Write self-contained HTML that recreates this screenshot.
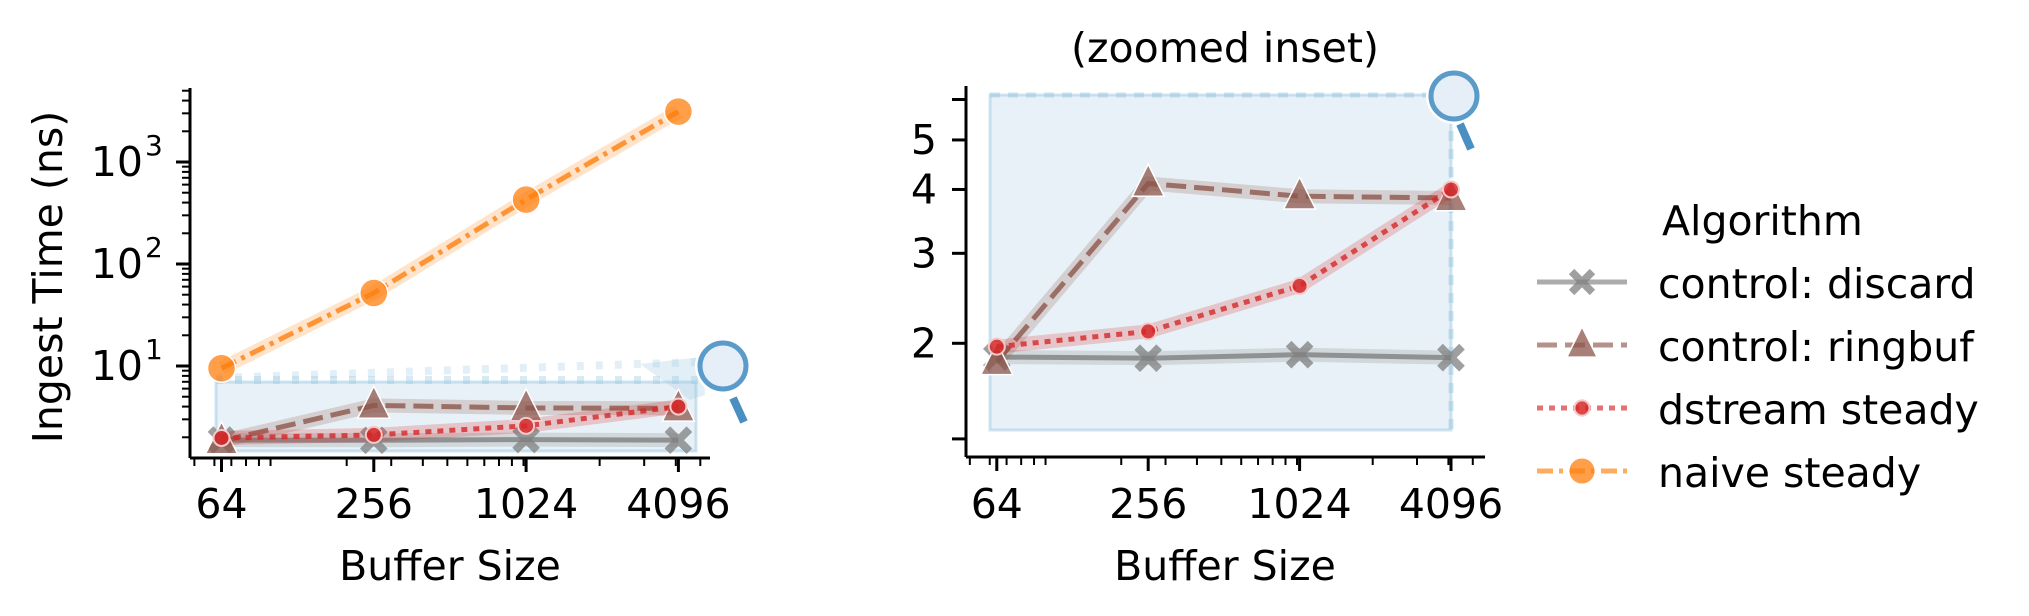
<!DOCTYPE html>
<html><head><meta charset="utf-8"><style>
html,body{margin:0;padding:0;background:#fff;}
svg{display:block;font-family:"DejaVu Sans","Liberation Sans",sans-serif;}
</style></head><body>
<svg id="chart" width="2029" height="616" viewBox="0 0 2029 616" xmlns="http://www.w3.org/2000/svg">
<g id="left"></g>
<g id="right"></g>
<g id="legend"></g>
</svg>
<script>
const sizes = [64, 256, 1024, 4096];
const discard = [1.88, 1.87, 1.90, 1.875];
const ringbuf = [1.84, 4.11, 3.88, 3.85];
const dstream = [1.97, 2.11, 2.59, 4.0];
const naive = [9.5, 52, 428, 3120];
const xTickLabels = ["64", "256", "1024", "4096"];
const leftYTicks = [10, 100, 1000];
const leftYTickLabels = ["1", "2", "3"];
const rightYTicks = [2, 3, 4, 5];
const rightYTickLabels = ["2", "3", "4", "5"];
const seriesNames = ["control: discard", "control: ringbuf", "dstream steady", "naive steady"];

const NS = "http://www.w3.org/2000/svg";
const FS = 41;
function mk(parent, tag, attrs, text) {
  const e = document.createElementNS(NS, tag);
  for (const k in attrs) e.setAttribute(k, attrs[k]);
  if (text !== undefined) e.textContent = text;
  parent.appendChild(e);
  return e;
}
const L = document.getElementById('left'), R = document.getElementById('right'), G = document.getElementById('legend');

function lx(v){ return 221.5 + Math.log(v/64)/Math.log(4)*152.3; }
function ly(v){ return 366 - (Math.log10(v)-1)*102; }
function rx(v){ return 996.8 + Math.log(v/64)/Math.log(4)*151.4; }
function ry(v){ return 343.3 - (Math.log10(v)-Math.log10(2))*511; }

const styles = [
  {c:'#7f7f7f', dash:'', m:'x', data:discard, name:'discard'},
  {c:'#8c564b', dash:'20 8', m:'tri', data:ringbuf, name:'ringbuf'},
  {c:'#d62728', dash:'6 6', m:'dot', data:dstream, name:'dstream'},
  {c:'#ff7f0e', dash:'16 6 4 6', m:'circ', data:naive, name:'naive'}
];

function marker(parent, type, x, y, c, scale) {
  let e;
  const s = scale || 1;
  if (type === 'x') {
    const d = 11*s;
    e = mk(parent, 'path', {d:`M${x-d},${y-d}L${x+d},${y+d}M${x-d},${y+d}L${x+d},${y-d}`, stroke:c, 'stroke-width':8*s, 'stroke-opacity':0.75, fill:'none'});
  } else if (type === 'tri') {
    const h = 16*s;
    e = mk(parent, 'path', {d:`M${x},${y-h*1.2}L${x+h},${y+h*0.8}L${x-h},${y+h*0.8}Z`, fill:c, 'fill-opacity':0.75, stroke:'#fff', 'stroke-width':1.5});
  } else if (type === 'dot') {
    e = mk(parent, 'circle', {cx:x, cy:y, r:8*s, fill:c, 'fill-opacity':0.85, stroke:'#f3c9c9', 'stroke-width':2});
  } else {
    e = mk(parent, 'circle', {cx:x, cy:y, r:14*s, fill:c, 'fill-opacity':0.75, stroke:'#fff', 'stroke-width':1.5});
  }
  return e;
}

function drawSeries(parent, st, xf, yf, idx) {
  const pts = sizes.map((s,i)=>xf(s)+','+yf(st.data[i])).join(' ');
  const band = mk(parent, 'polyline', {points:pts, fill:'none', stroke:st.c, 'stroke-width':14, 'stroke-opacity':0.22, 'stroke-linejoin':'round'});
  
  
  const ln = mk(parent, 'polyline', {points:pts, fill:'none', stroke:st.c, 'stroke-width':5, 'stroke-opacity':0.8, 'stroke-dasharray':st.dash});
  
  
  sizes.forEach((s,i)=>{
    const m = marker(parent, st.m, xf(s), yf(st.data[i]), st.c);
    
    
  });
}

function xAxis(parent, xf, x0, x1, y) {
  const a = mk(parent, 'line', {x1:x0, y1:y, x2:x1, y2:y, stroke:'#000', 'stroke-width':3});
  
  
  [1,10,100,1000].forEach(dec=>{ for (let k=1;k<10;k++){ const v=k*dec; const x=xf(v); if (x>=x0 && x<=x1) mk(parent,'line',{x1:x,y1:y,x2:x,y2:y+8,stroke:'#000','stroke-width':2}); }});
  sizes.forEach((s,i)=>{
    const x = xf(s);
    mk(parent,'line',{x1:x,y1:y,x2:x,y2:y+14,stroke:'#000','stroke-width':3});
    const t = mk(parent,'text',{x:x,y:518,'font-size':FS,'text-anchor':'middle'}, xTickLabels[i]);
    
    
  });
}

// LEFT PANEL
(function(){
  const rect = mk(L,'rect',{x:216,y:382,width:480,height:69,fill:'#1f77b4','fill-opacity':0.1,stroke:'#9ecae1','stroke-opacity':0.5,'stroke-width':3});
  
  
  mk(L,'line',{x1:216,y1:380,x2:700,y2:380,stroke:'#9ecae1','stroke-width':8,'stroke-opacity':0.4,'stroke-dasharray':'7 12'});
  mk(L,'line',{x1:216,y1:378,x2:700,y2:362,stroke:'#9ecae1','stroke-width':8,'stroke-opacity':0.3,'stroke-dasharray':'7 12'});
  mk(L,'path',{d:'M640,364 L702,357 L705,395 L690,400 Z',fill:'#9ecae1','fill-opacity':0.3});
  styles.forEach((st,i)=>drawSeries(L, st, lx, ly, i));
  const ya = mk(L,'line',{x1:190,y1:88,x2:190,y2:458,stroke:'#000','stroke-width':3});
  
  
  [1,10,100,1000].forEach(dec=>{ for (let k=2;k<10;k++){ const v=k*dec; const y=ly(v); if (y>=88 && y<=458) mk(L,'line',{x1:190,y1:y,x2:182,y2:y,stroke:'#000','stroke-width':2}); }});
  leftYTicks.forEach((v,i)=>{
    const y = ly(v);
    mk(L,'line',{x1:190,y1:y,x2:176,y2:y,stroke:'#000','stroke-width':3});
    const t = mk(L,'text',{x:143,y:y+14,'font-size':FS,'text-anchor':'end'}, '10');
    
    
    mk(L,'text',{x:145,y:y-7,'font-size':28}, leftYTickLabels[i]);
  });
  xAxis(L, lx, 190, 710, 458);
  const xl = mk(L,'text',{x:450,y:580,'font-size':FS,'text-anchor':'middle'},'Buffer Size');
  
  
  const yl = mk(L,'text',{x:0,y:0,'font-size':FS,'text-anchor':'middle',transform:'translate(62,277) rotate(-90)'},'Ingest Time (ns)');
  
  
  const mg = mk(L,'g',{});
  
  
  mk(mg,'circle',{cx:723,cy:366,r:28,fill:'#fff'});
  mk(mg,'line',{x1:733,y1:398,x2:744,y2:422,stroke:'#4a8fc2','stroke-width':8});
  mk(mg,'circle',{cx:723,cy:366,r:23,fill:'#e6eff8',stroke:'#5b9bc9','stroke-width':5});
})();

// RIGHT PANEL
(function(){
  const rect = mk(R,'rect',{x:990,y:95,width:461,height:335,fill:'#1f77b4','fill-opacity':0.1,stroke:'#9ecae1','stroke-opacity':0.5,'stroke-width':3});
  
  
  mk(R,'line',{x1:990,y1:95,x2:1451,y2:95,stroke:'#9ecae1','stroke-width':5,'stroke-opacity':0.5,'stroke-dasharray':'10 8'});
  mk(R,'line',{x1:1451,y1:95,x2:1451,y2:430,stroke:'#9ecae1','stroke-width':5,'stroke-opacity':0.5,'stroke-dasharray':'10 8'});
  styles.slice(0,3).forEach((st,i)=>drawSeries(R, st, rx, ry, i));
  const ya = mk(R,'line',{x1:966,y1:86,x2:966,y2:457,stroke:'#000','stroke-width':3});
  
  
  [6,1.3].forEach(v=>{ const y=ry(v); mk(R,'line',{x1:966,y1:y,x2:952,y2:y,stroke:'#000','stroke-width':3}); });
  rightYTicks.forEach((v,i)=>{
    const y = ry(v);
    mk(R,'line',{x1:966,y1:y,x2:952,y2:y,stroke:'#000','stroke-width':3});
    const t = mk(R,'text',{x:937,y:y+14,'font-size':FS,'text-anchor':'end'}, rightYTickLabels[i]);
    
    
  });
  xAxis(R, rx, 966, 1485, 457);
  const xl = mk(R,'text',{x:1225,y:580,'font-size':FS,'text-anchor':'middle'},'Buffer Size');
  
  
  const tt = mk(R,'text',{x:1225,y:62,'font-size':FS,'text-anchor':'middle'},'(zoomed inset)');
  
  
  const mg = mk(R,'g',{});
  
  
  mk(mg,'circle',{cx:1454,cy:96,r:28,fill:'#fff'});
  mk(mg,'line',{x1:1460,y1:124,x2:1471,y2:149,stroke:'#4a8fc2','stroke-width':8});
  mk(mg,'circle',{cx:1454,cy:96,r:23,fill:'#e6eff8',stroke:'#5b9bc9','stroke-width':5});
})();

// LEGEND
(function(){
  const t = mk(G,'text',{x:1662,y:235,'font-size':FS},'Algorithm');
  
  
  const ys = [282, 345, 408, 471];
  styles.forEach((st,i)=>{
    const g = mk(G,'g',{});
    
    
    mk(g,'line',{x1:1537,y1:ys[i],x2:1627,y2:ys[i],stroke:st.c,'stroke-width':5,'stroke-opacity':0.65,'stroke-dasharray':st.dash});
    marker(g, st.m, 1582, ys[i], st.c, 0.95);
    mk(g,'text',{x:1658,y:ys[i]+16,'font-size':FS}, seriesNames[i]);
  });
})();
</script>
</body></html>
